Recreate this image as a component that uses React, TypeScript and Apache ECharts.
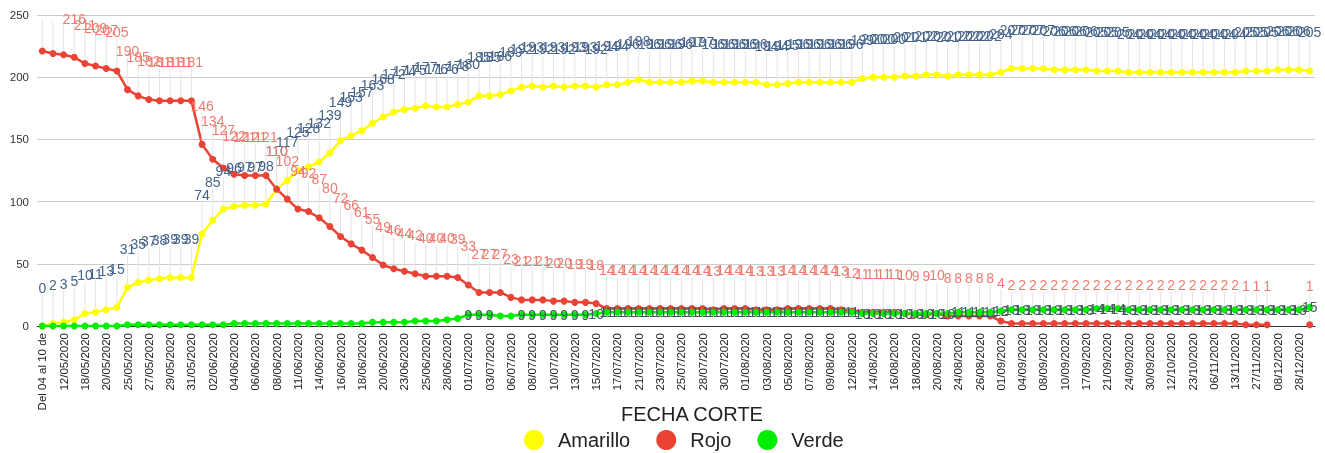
import React, { useEffect, useRef } from 'react';
import * as echarts from 'echarts';

const categories = [
  'Del 04 al 10 de', '11/05/2020', '12/05/2020', '14/05/2020', '18/05/2020', '19/05/2020', '20/05/2020', '22/05/2020',
  '25/05/2020', '26/05/2020', '27/05/2020', '28/05/2020', '29/05/2020', '30/05/2020', '31/05/2020', '01/06/2020',
  '02/06/2020', '03/06/2020', '04/06/2020', '05/06/2020', '06/06/2020', '07/06/2020', '08/06/2020', '09/06/2020',
  '11/06/2020', '12/06/2020', '14/06/2020', '15/06/2020', '16/06/2020', '17/06/2020', '18/06/2020', '19/06/2020',
  '20/06/2020', '22/06/2020', '23/06/2020', '24/06/2020', '25/06/2020', '27/06/2020', '28/06/2020', '30/06/2020',
  '01/07/2020', '02/07/2020', '03/07/2020', '04/07/2020', '06/07/2020', '07/07/2020', '08/07/2020', '09/07/2020',
  '10/07/2020', '11/07/2020', '13/07/2020', '14/07/2020', '15/07/2020', '16/07/2020', '17/07/2020', '20/07/2020',
  '21/07/2020', '22/07/2020', '23/07/2020', '24/07/2020', '25/07/2020', '27/07/2020', '28/07/2020', '29/07/2020',
  '30/07/2020', '31/07/2020', '01/08/2020', '02/08/2020', '03/08/2020', '04/08/2020', '05/08/2020', '06/08/2020',
  '07/08/2020', '08/08/2020', '09/08/2020', '10/08/2020', '12/08/2020', '13/08/2020', '14/08/2020', '15/08/2020',
  '16/08/2020', '17/08/2020', '18/08/2020', '19/08/2020', '20/08/2020', '21/08/2020', '24/08/2020', '25/08/2020',
  '26/08/2020', '28/08/2020', '01/09/2020', '03/09/2020', '04/09/2020', '07/09/2020', '08/09/2020', '09/09/2020',
  '10/09/2020', '14/09/2020', '17/09/2020', '18/09/2020', '21/09/2020', '22/09/2020', '24/09/2020', '28/09/2020',
  '30/09/2020', '07/10/2020', '12/10/2020', '19/10/2020', '23/10/2020', '30/10/2020', '06/11/2020', '09/11/2020',
  '13/11/2020', '20/11/2020', '27/11/2020', '04/12/2020', '08/12/2020', '16/12/2020', '28/12/2020', '31/12/2020'
];

const amarillo = [
  0, 2, 3, 5, 10, 11, 13, 15, 31, 35, 37, 38, 39, 39, 39,
  74, 85, 94, 96, 97, 97, 98, 110, 117, 125, 128, 132, 139,
  149, 153, 157, 163, 168, 172, 174, 175, 177, 176, 176, 178,
  180, 185, 185, 186, 189, 192, 193, 192, 193, 192, 193, 193, 192,
  194, 194, 196, 198, 196, 196,
  196, 196, 197, 197, 196, 196, 196, 196, 196, 194, 194, 195, 196, 196, 196, 196, 196, 196,
  199, 200, 200, 200, 201, 201, 202, 202, 201, 202, 202, 202, 202,
  204, 207, 207, 207, 207, 206, 206, 206, 206, 205, 205, 205, 204, 204, 204, 204, 204, 204, 204, 204,
  204, 204, 204, 205, 205, 205, 206, 206, 206, 205
];

const rojo = [
  221, 219, 218, 216, 211, 209, 207, 205, 190, 185, 182, 181, 181, 181, 181,
  146, 134, 127, 122, 121, 121, 121, 110, 102, 94, 92, 87, 80,
  72, 66, 61, 55, 49, 46, 44, 42, 40, 40, 40, 39,
  33, 27, 27, 27, 23, 21, 21, 21, 20, 20, 19, 19, 18,
  14, 14, 14, 14, 14, 14, 14, 14, 14, 14, 13, 14, 14, 14, 13, 13, 13, 14, 14, 14, 14, 14, 13, 12,
  11, 11, 11, 11, 10, 9, 9, 10, 8, 8, 8, 8, 8,
  4, 2, 2, 2, 2, 2, 2, 2, 2, 2, 2, 2, 2, 2, 2, 2, 2, 2, 2, 2, 2, 2, 2,
  1, 1, 1, null, null, null, 1
];

const verde = [
  0, 0, 0, 0, 0, 0, 0, 0, 1, 1, 1, 1, 1, 1, 1, 1, 1, 1, 2, 2,
  2, 2, 2, 2, 2, 2, 2, 2, 2, 2, 2, 3, 3, 3, 3, 4, 4, 4, 5, 6,
  9, 9, 9, 8, 8, 9, 9, 9, 9, 9, 9, 9,
  10, 11, 11, 11, 11, 11, 11, 11, 11, 11, 11, 11, 11, 11, 11, 11, 11, 11, 11, 11,
  11, 11, 11, 11, 11, 10, 10, 10, 10, 10, 10, 10, 10, 10, 11, 11, 11, 11,
  12, 13, 13, 13, 13, 13, 13, 13, 13, 14, 14, 14, 13, 13, 13, 13, 13, 13, 13, 13,
  13, 13, 13, 13, 13, 13, 13, 13, 13, 15
];

const seriesNames = ['Amarillo', 'Rojo', 'Verde'];
const yMin = 0;
const yMax = 250;
const yInterval = 50;

export default function App() {
  const ref = useRef<HTMLDivElement>(null);

  useEffect(() => {
    const chart = echarts.init(ref.current as HTMLDivElement, null, { renderer: 'svg' });
    const font = 'Arial, "Liberation Sans", sans-serif';
    const leader = { show: true, lineStyle: { color: '#e4e4e4', width: 1 } };

    chart.setOption({
      animation: false,
      textStyle: { fontFamily: font },
      grid: { left: 37, right: 10, top: 15, bottom: 127 },
      legend: {
        data: seriesNames,
        left: 524,
        top: 430,
        padding: 0,
        icon: 'circle',
        itemWidth: 20,
        itemHeight: 20,
        itemGap: 26,
        textStyle: { fontSize: 20, color: '#222', fontFamily: font, padding: [0, 0, 0, 9] }
      },
      xAxis: {
        type: 'category',
        data: categories,
        boundaryGap: true,
        name: 'FECHA CORTE',
        nameLocation: 'middle',
        nameGap: 78,
        nameMoveOverlap: false,
        nameTextStyle: { fontSize: 20, color: '#222', fontFamily: font, padding: [0, 0, 0, 32] },
        axisLine: { lineStyle: { color: '#333', width: 1 } },
        axisTick: { show: false },
        axisLabel: { rotate: 90, interval: 1, fontSize: 11.5, color: '#222', margin: 7, fontFamily: font }
      },
      yAxis: {
        type: 'value',
        min: yMin,
        max: yMax,
        interval: yInterval,
        axisLine: { show: false },
        axisTick: { show: false },
        axisLabel: { fontSize: 11.5, color: '#333', margin: 8, fontFamily: font },
        splitLine: { lineStyle: { color: '#cccccc', width: 1 } }
      },
      series: [
        {
          name: seriesNames[0],
          type: 'line',
          data: amarillo,
          color: '#ffff00',
          symbol: 'circle',
          symbolSize: 7,
          showAllSymbol: true,
          lineStyle: { width: 2.5 },
          label: { show: true, position: 'top', distance: 4, fontSize: 14, color: '#46638a', fontFamily: font },
          labelLayout: { dy: -24 },
          labelLine: leader
        },
        {
          name: seriesNames[1],
          type: 'line',
          data: rojo,
          color: '#ea4335',
          symbol: 'circle',
          symbolSize: 7,
          showAllSymbol: true,
          connectNulls: false,
          lineStyle: { width: 2.5 },
          label: {
            show: true, position: 'top', distance: 4, fontSize: 14, color: '#ee7b71', fontFamily: font,
            formatter: (p: any) => (p.value > 217 ? '' : String(p.value))
          },
          labelLayout: { dy: -24 },
          labelLine: leader
        },
        {
          name: seriesNames[2],
          type: 'line',
          data: verde,
          color: '#00ee00',
          symbol: 'circle',
          symbolSize: 7,
          showAllSymbol: true,
          lineStyle: { width: 2.5 },
          label: {
            show: true, position: 'inside', fontSize: 14, color: '#44575f', fontFamily: font,
            formatter: (p: any) => (p.value >= 9 ? String(p.value) : '')
          }
        }
      ]
    });

    return () => chart.dispose();
  }, []);

  return <div ref={ref} style={{ position: 'fixed', left: 0, top: 0, width: 1325, height: 453 }} />;
}
